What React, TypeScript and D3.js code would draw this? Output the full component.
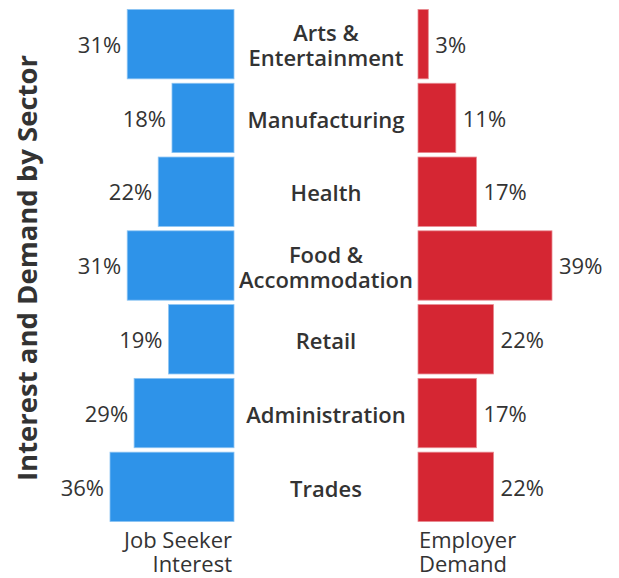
import React from "react";
import * as d3 from "d3";

const categories = ["Arts & Entertainment", "Manufacturing", "Health", "Food & Accommodation", "Retail", "Administration", "Trades"];
const categoryLines = [["Arts &", "Entertainment"], ["Manufacturing"], ["Health"], ["Food &", "Accommodation"], ["Retail"], ["Administration"], ["Trades"]];
const jobSeekerInterest = [31, 18, 22, 31, 19, 29, 36];
const employerDemand = [3, 11, 17, 39, 22, 17, 22];

const W = 619;
const H = 578;
const FONT = "'Open Sans', 'Noto Sans', sans-serif";
const TEXT = "#333333";

export default function App() {
  const y = d3.scaleBand<string>().domain(categories).range([8, 523]).paddingInner(0.06).paddingOuter(0.02);
  const leftX = d3.scaleLinear().domain([0, 36]).range([234, 110]);
  const rightX = d3.scaleLinear().domain([0, 39]).range([418, 552]);
  const bw = y.bandwidth();
  return (
    <svg width={W} height={H} style={{ position: "absolute", left: 0, top: 0, background: "#fff" }} fontFamily={FONT}>
      <text transform={`translate(37,268) rotate(-90)`} textAnchor="middle" fontSize={27.5} fontWeight={700} fill={TEXT}>
        Interest and Demand by Sector
      </text>
      {categories.map((c, i) => {
        const y0 = y(c)!;
        const cy = y0 + bw / 2;
        const lines = categoryLines[i];
        return (
          <g key={c}>
            <rect x={leftX(jobSeekerInterest[i])} y={y0} width={leftX(0) - leftX(jobSeekerInterest[i])} height={bw} fill="#2e93e9" stroke="#8cc4f3" strokeWidth={0.8} />
            <rect x={rightX(0)} y={y0} width={rightX(employerDemand[i]) - rightX(0)} height={bw} fill="#d52633" stroke="#e88a91" strokeWidth={0.8} />
            <text x={leftX(jobSeekerInterest[i]) - 6} y={cy + 1} dy="0.35em" textAnchor="end" fontSize={22} fontWeight={400} fill={TEXT}>
              {jobSeekerInterest[i]}%
            </text>
            <text x={rightX(employerDemand[i]) + 7} y={cy + 1} dy="0.35em" textAnchor="start" fontSize={22} fontWeight={400} fill={TEXT}>
              {employerDemand[i]}%
            </text>
            {lines.map((l, j) => (
              <text key={j} x={326} y={cy + 2 + (j - (lines.length - 1) / 2) * 25} dy="0.35em" textAnchor="middle" fontSize={22} fontWeight={600} fill={TEXT}>
                {l}
              </text>
            ))}
          </g>
        );
      })}
      <text x={232} y={548} textAnchor="end" fontSize={22} fontWeight={400} fill={TEXT}>Job Seeker</text>
      <text x={232} y={572} textAnchor="end" fontSize={22} fontWeight={400} fill={TEXT}>Interest</text>
      <text x={419} y={548} textAnchor="start" fontSize={22} fontWeight={400} fill={TEXT}>Employer</text>
      <text x={419} y={572} textAnchor="start" fontSize={22} fontWeight={400} fill={TEXT}>Demand</text>
    </svg>
  );
}
